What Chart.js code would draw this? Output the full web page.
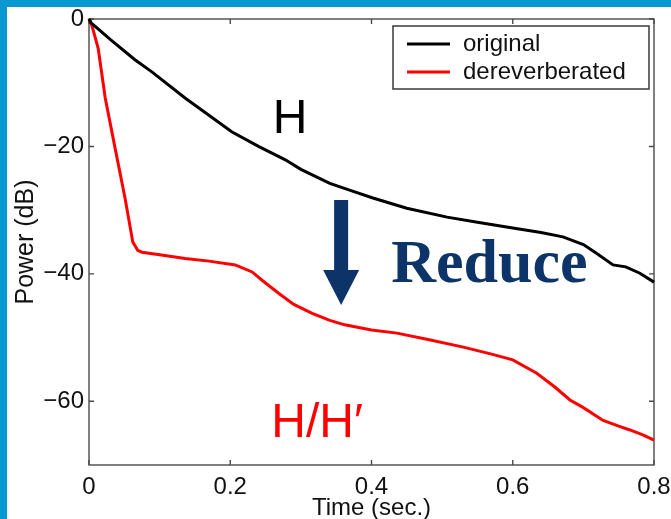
<!DOCTYPE html>
<html>
<head>
<meta charset="utf-8">
<script src="https://cdn.jsdelivr.net/npm/chart.js@4"></script>
<style>
  html, body { margin: 0; padding: 0; background: #0a98d0; }
  canvas { display: block; }
</style>
</head>
<body>
<canvas id="decay" width="671" height="519"></canvas>
<script>
// energy decay curves, power in dB against time in seconds
const timeOriginal = [0, 0.003, 0.03, 0.065, 0.089, 0.136, 0.202, 0.24, 0.278, 0.30, 0.341, 0.37, 0.402, 0.45, 0.507, 0.55, 0.60, 0.64, 0.671, 0.70, 0.719, 0.742, 0.76, 0.78, 0.80];
const powerOriginal = [0, -0.6, -3.2, -6.4, -8.3, -12.4, -17.7, -20.0, -22.1, -23.6, -25.8, -26.9, -28.1, -29.7, -31.1, -31.9, -32.8, -33.5, -34.2, -35.4, -36.8, -38.6, -38.9, -39.9, -41.3];

const timeDerev = [0, 0.004, 0.013, 0.023, 0.037, 0.051, 0.062, 0.069, 0.075, 0.10, 0.136, 0.17, 0.207, 0.231, 0.245, 0.268, 0.29, 0.316, 0.341, 0.362, 0.40, 0.436, 0.48, 0.53, 0.57, 0.60, 0.634, 0.66, 0.681, 0.70, 0.728, 0.75, 0.766, 0.785, 0.80];
const powerDerev = [0, -1.0, -4.6, -12.4, -20.3, -28.1, -35.0, -36.3, -36.6, -37.0, -37.6, -38.0, -38.6, -39.7, -41.0, -43.0, -44.8, -46.2, -47.3, -48.0, -48.8, -49.3, -50.3, -51.5, -52.6, -53.5, -55.6, -57.8, -59.8, -61.0, -63.0, -63.9, -64.5, -65.3, -66.1];

const seriesLabels = ['original', 'dereverberated'];
const seriesColors = ['#000000', '#ff0000'];

const xTicks = [0, 0.2, 0.4, 0.6, 0.8];
const yTicks = [-60, -40, -20, 0];

const SANS = "'Liberation Sans', Arial, Helvetica, sans-serif";
const SERIF = "'Liberation Serif', 'Times New Roman', serif";
const AXIS_COLOR = '#4a4a4a';
const NAVY = '#0c3468';

const toPoints = (xs, ys) => xs.map((x, i) => ({ x, y: ys[i] }));
const formatTick = (v) => (v < 0 ? '\u2212' + Math.abs(v) : String(v));

// white sheet inside the blue frame
const framePlugin = {
    id: 'frame',
    beforeDraw(chart) {
        const { ctx, width, height } = chart;
        ctx.save();
        ctx.fillStyle = '#0a98d0';
        ctx.fillRect(0, 0, width, height);
        ctx.fillStyle = '#ffffff';
        ctx.fillRect(7, 7, width - 7, height - 7);
        ctx.restore();
    }
};

// matlab style box with inward ticks on all four sides
const boxPlugin = {
    id: 'box',
    beforeDatasetsDraw(chart) {
        const { ctx, chartArea: { left, top, right, bottom }, scales: { x, y } } = chart;
        const len = 5;
        ctx.save();
        ctx.strokeStyle = AXIS_COLOR;
        ctx.lineWidth = 1.4;
        ctx.strokeRect(left, top, right - left, bottom - top);
        ctx.beginPath();
        xTicks.forEach((v) => {
            const px = x.getPixelForValue(v);
            ctx.moveTo(px, bottom); ctx.lineTo(px, bottom - len);
            ctx.moveTo(px, top); ctx.lineTo(px, top + len);
        });
        yTicks.forEach((v) => {
            const py = y.getPixelForValue(v);
            ctx.moveTo(left, py); ctx.lineTo(left + len, py);
            ctx.moveTo(right, py); ctx.lineTo(right - len, py);
        });
        ctx.stroke();
        ctx.restore();
    }
};

const legendPlugin = {
    id: 'boxLegend',
    afterDatasetsDraw(chart) {
        const { ctx } = chart;
        const bx = 393, by = 26, bw = 256, bh = 63;
        ctx.save();
        ctx.fillStyle = '#ffffff';
        ctx.fillRect(bx, by, bw, bh);
        ctx.strokeStyle = '#3a3a3a';
        ctx.lineWidth = 1.5;
        ctx.strokeRect(bx, by, bw, bh);
        ctx.font = `24px ${SANS}`;
        ctx.textBaseline = 'middle';
        ctx.textAlign = 'left';
        chart.data.datasets.forEach((ds, i) => {
            const ly = 44 + i * 28;
            ctx.strokeStyle = ds.borderColor;
            ctx.lineWidth = 3;
            ctx.beginPath();
            ctx.moveTo(407, ly);
            ctx.lineTo(450, ly);
            ctx.stroke();
            ctx.fillStyle = '#111111';
            ctx.fillText(ds.label, 463, ly);
        });
        ctx.restore();
    }
};

// labels and the "reduce" arrow, placed in data units
const notesPlugin = {
    id: 'notes',
    afterDatasetsDraw(chart) {
        const { ctx, scales: { x, y } } = chart;
        ctx.save();
        ctx.textAlign = 'left';
        ctx.textBaseline = 'alphabetic';

        ctx.fillStyle = '#000000';
        ctx.font = `48px ${SANS}`;
        ctx.fillText('H', x.getPixelForValue(0.26), y.getPixelForValue(-17.9));

        ctx.fillStyle = '#ff0000';
        ctx.fillText('H/H\u2032', x.getPixelForValue(0.258), y.getPixelForValue(-65.6));

        ctx.fillStyle = NAVY;
        ctx.font = `bold 62px ${SERIF}`;
        ctx.fillText('Reduce', x.getPixelForValue(0.428), y.getPixelForValue(-41.3));

        const ax = x.getPixelForValue(0.357);
        const aTop = y.getPixelForValue(-28.4);
        const aHead = y.getPixelForValue(-39.4);
        const aTip = y.getPixelForValue(-44.9);
        ctx.beginPath();
        ctx.moveTo(ax - 7, aTop);
        ctx.lineTo(ax + 7, aTop);
        ctx.lineTo(ax + 7, aHead);
        ctx.lineTo(ax + 18, aHead);
        ctx.lineTo(ax, aTip);
        ctx.lineTo(ax - 18, aHead);
        ctx.lineTo(ax - 7, aHead);
        ctx.closePath();
        ctx.fill();
        ctx.restore();
    }
};

new Chart(document.getElementById('decay'), {
    type: 'line',
    data: {
        datasets: [
            { label: seriesLabels[0], data: toPoints(timeOriginal, powerOriginal), borderColor: seriesColors[0] },
            { label: seriesLabels[1], data: toPoints(timeDerev, powerDerev), borderColor: seriesColors[1] }
        ].map((ds) => ({ ...ds, borderWidth: 3, pointRadius: 0, tension: 0, fill: false, clip: 4 }))
    },
    options: {
        responsive: false,
        animation: false,
        layout: { padding: { left: 0, top: 19, right: 17, bottom: 0 } },
        plugins: { legend: { display: false }, tooltip: { enabled: false } },
        scales: {
            x: {
                type: 'linear',
                min: 0,
                max: 0.8,
                afterBuildTicks(scale) { scale.ticks = xTicks.map((value) => ({ value })); },
                afterFit(scale) {
                    scale.height = 54;
                    scale.paddingLeft = 0;
                    scale.paddingRight = 0;
                },
                grid: { display: false, drawTicks: false },
                border: { display: false },
                ticks: {
                    padding: 8,
                    maxRotation: 0,
                    color: '#111111',
                    font: { family: SANS, size: 24 },
                    callback: (v) => formatTick(v)
                },
                title: {
                    display: true,
                    text: 'Time (sec.)',
                    color: '#111111',
                    padding: { top: 0, bottom: -1 },
                    font: { family: SANS, size: 24, lineHeight: 1 }
                }
            },
            y: {
                min: -70,
                max: 0,
                afterBuildTicks(scale) { scale.ticks = yTicks.map((value) => ({ value })); },
                afterFit(scale) {
                    scale.width = 89;
                    scale.paddingTop = 0;
                    scale.paddingBottom = 0;
                },
                grid: { display: false, drawTicks: false },
                border: { display: false },
                ticks: {
                    padding: 5,
                    color: '#111111',
                    font: { family: SANS, size: 24 },
                    callback: (v) => formatTick(v)
                },
                title: {
                    display: true,
                    text: 'Power (dB)',
                    color: '#111111',
                    padding: { top: 14, bottom: 0 },
                    font: { family: SANS, size: 25, lineHeight: 1 }
                }
            }
        }
    },
    plugins: [framePlugin, boxPlugin, legendPlugin, notesPlugin]
});
</script>
</body>
</html>
